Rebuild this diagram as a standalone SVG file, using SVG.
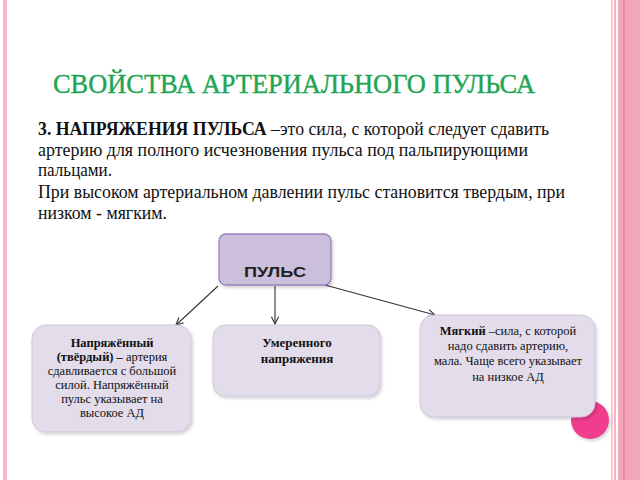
<svg xmlns="http://www.w3.org/2000/svg" width="640" height="480" viewBox="0 0 640 480">
<defs>
<style>
.serif{font-family:"Liberation Serif","Times New Roman",serif;fill:#111}
.body{font-size:18px}
.small{font-size:12.5px}
.node{fill:#e3dcea;stroke:#cfc5dd;stroke-width:1}
.conn{stroke:#333;stroke-width:1.1;fill:none;marker-end:url(#arr)}
</style>
<marker id="arr" viewBox="0 0 10 10" refX="9" refY="5" markerWidth="9" markerHeight="9" orient="auto" markerUnits="userSpaceOnUse">
<path d="M1,1 L9,5 L1,9" fill="none" stroke="#333" stroke-width="1.2"/>
</marker>
<filter id="sh" x="-10%" y="-10%" width="130%" height="130%">
<feDropShadow dx="1.5" dy="2" stdDeviation="1.5" flood-color="#000" flood-opacity="0.18"/>
</filter>
</defs>
<rect width="640" height="480" fill="#fff"/>
<!-- borders -->
<rect x="3" y="0" width="4" height="480" fill="#f7b7c8"/>
<rect x="611" y="0" width="2" height="480" fill="#f9c9d5"/>
<rect x="614" y="0" width="2" height="480" fill="#f5b3c5"/>
<rect x="618" y="0" width="22" height="480" fill="#f1a6ba"/>
<rect x="623" y="0" width="2" height="480" fill="#e98aa4"/>
<!-- title -->
<text x="53" y="93" font-family="'Liberation Serif','Times New Roman',serif" font-size="27" fill="#1fa553" stroke="#1fa553" stroke-width="0.4" textLength="482" lengthAdjust="spacingAndGlyphs">СВОЙСТВА АРТЕРИАЛЬНОГО ПУЛЬСА</text>
<!-- paragraph -->
<text class="serif body" x="38" y="135" textLength="511" lengthAdjust="spacingAndGlyphs"><tspan font-weight="bold">3. НАПРЯЖЕНИЯ ПУЛЬСА</tspan> –это сила, с которой следует сдавить</text>
<text class="serif body" x="38" y="156" textLength="490" lengthAdjust="spacingAndGlyphs">артерию для полного исчезновения пульса под пальпирующими</text>
<text class="serif body" x="38" y="176" textLength="74" lengthAdjust="spacingAndGlyphs">пальцами.</text>
<text class="serif body" x="38" y="198" textLength="527" lengthAdjust="spacingAndGlyphs">При высоком артериальном давлении пульс становится твердым, при</text>
<text class="serif body" x="38" y="219" textLength="129" lengthAdjust="spacingAndGlyphs">низком - мягким.</text>
<!-- decorative circle -->
<circle cx="590" cy="420" r="19" fill="#f03d8d" filter="url(#sh)"/>
<!-- connectors -->
<g id="connectors">
<line class="conn" x1="218" y1="286" x2="176" y2="325"/>
<line class="conn" x1="275" y1="286" x2="275" y2="324"/>
<line class="conn" x1="325" y1="285" x2="435" y2="315"/>
</g>
<g id="node-pulse">
<rect x="219" y="234" width="112" height="51" rx="7" fill="#cbbfdc" stroke="#9c80c1" stroke-width="1.3" filter="url(#sh)"/>
<text x="275" y="277" text-anchor="middle" font-family="'Liberation Sans',Arial,sans-serif" font-weight="bold" font-size="15.5" fill="#222" textLength="62" lengthAdjust="spacingAndGlyphs">ПУЛЬС</text>
</g>
<g id="node-tense">
<rect class="node" x="32" y="325" width="159" height="107" rx="14" filter="url(#sh)"/>
<g class="serif small" text-anchor="middle">
<text x="112" y="347" font-weight="bold">Напряжённый</text>
<text x="112" y="361"><tspan font-weight="bold">(твёрдый) –</tspan> артерия</text>
<text x="112" y="375">сдавливается с большой</text>
<text x="112" y="389">силой. Напряжённый</text>
<text x="112" y="403">пульс указывает на</text>
<text x="112" y="417">высокое АД</text>
</g>
</g>
<g id="node-moderate">
<rect class="node" x="213" y="325" width="167" height="71" rx="12" filter="url(#sh)"/>
<g class="serif" text-anchor="middle" font-size="13" font-weight="bold">
<text x="297" y="347">Умеренного</text>
<text x="297" y="363">напряжения</text>
</g>
</g>
<g id="node-soft">
<rect class="node" x="420" y="315" width="175" height="102" rx="14" filter="url(#sh)"/>
<g class="serif small" text-anchor="middle">
<text x="508" y="335"><tspan font-weight="bold">Мягкий</tspan> –сила, с которой</text>
<text x="508" y="350">надо сдавить артерию,</text>
<text x="508" y="365">мала. Чаще всего указывает</text>
<text x="508" y="381">на низкое АД</text>
</g>
</g>
</svg>
